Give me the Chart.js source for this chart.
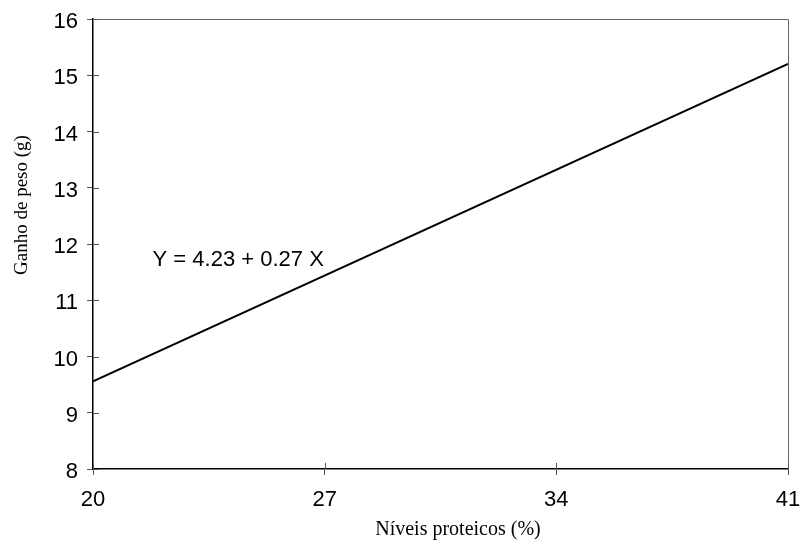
<!DOCTYPE html>
<html>
<head>
<meta charset="utf-8">
<script src="https://cdn.jsdelivr.net/npm/chart.js@4"></script>
<style>
	html, body { margin: 0; padding: 0; background: #fff; }
	#wrap { width: 803px; height: 544px; }
</style>
</head>
<body>
<div id="wrap"><canvas id="chart" width="803" height="544"></canvas></div>
<script>
// valores
const niveis = [20, 41];
const ganho = [9.56, 15.2];
const xTicks = [20, 27, 34, 41];
const yTicks = [8, 9, 10, 11, 12, 13, 14, 15, 16];
const equacao = 'Y = 4.23 + 0.27 X';
const eqPos = [21.8, 11.72];
const xTitle = 'Níveis proteicos (%)';
const yTitle = 'Ganho de peso (g)';

const sans = '"Liberation Sans", Arial, sans-serif';
const serif = '"Liberation Serif", "Times New Roman", serif';

const extras = {
	id: 'extras',
	afterDraw(chart) {
		const ctx = chart.ctx;
		const a = chart.chartArea;
		const xs = chart.scales.x;
		const ys = chart.scales.y;
		ctx.save();
		// moldura superior e direita
		ctx.strokeStyle = '#666';
		ctx.lineWidth = 1;
		ctx.beginPath();
		ctx.moveTo(a.left, a.top + 0.5);
		ctx.lineTo(a.right + 0.5, a.top + 0.5);
		ctx.lineTo(a.right + 0.5, a.bottom);
		ctx.stroke();
		// marcas internas
		ctx.strokeStyle = '#555';
		ctx.beginPath();
		xTicks.forEach(v => {
			const px = Math.round(xs.getPixelForValue(v)) + 0.5;
			ctx.moveTo(px, a.bottom);
			ctx.lineTo(px, a.bottom - 6);
		});
		yTicks.forEach(v => {
			const py = Math.round(ys.getPixelForValue(v)) + 0.5;
			ctx.moveTo(a.left, py);
			ctx.lineTo(a.left + 6, py);
		});
		ctx.stroke();
		// equação
		ctx.fillStyle = '#000';
		ctx.font = '22px ' + sans;
		ctx.textAlign = 'left';
		ctx.textBaseline = 'middle';
		ctx.fillText(equacao, xs.getPixelForValue(eqPos[0]), ys.getPixelForValue(eqPos[1]));
		// títulos dos eixos
		ctx.font = '20px ' + serif;
		ctx.textAlign = 'center';
		ctx.fillText(xTitle, 458, 530);
		ctx.translate(22, 205);
		ctx.rotate(-Math.PI / 2);
		ctx.font = '19px ' + serif;
		ctx.fillText(yTitle, 0, 0);
		ctx.restore();
	}
};

const ctx = document.getElementById('chart').getContext('2d');
const chart = new Chart(ctx, {
	type: 'scatter',
	data: {
		datasets: [{
			data: niveis.map((x, i) => ({ x: x, y: ganho[i] })),
			showLine: true,
			borderColor: '#000',
			borderWidth: 2,
			pointRadius: 0,
			fill: false,
		}],
	},
	options: {
		responsive: false,
		animation: false,
		layout: { padding: { top: 19, right: 15, left: 0, bottom: 0 } },
		plugins: {
			legend: { display: false },
			tooltip: { enabled: false },
		},
		scales: {
			x: {
				type: 'linear',
				min: 20,
				max: 41,
				afterFit: s => { s.height = 75; s.paddingLeft = 0; s.paddingRight = 0; },
				afterBuildTicks: s => { s.ticks = xTicks.map(v => ({ value: v })); },
				ticks: {
					font: { family: sans, size: 22 },
					color: '#000',
					padding: 12,
					maxRotation: 0,
				},
				grid: { drawOnChartArea: false, tickLength: 6, color: '#555' },
				border: { color: '#000', width: 1.5 },
			},
			y: {
				min: 8,
				max: 16,
				afterFit: s => { s.width = 93; s.paddingTop = 0; s.paddingBottom = 0; },
				afterBuildTicks: s => { s.ticks = yTicks.map(v => ({ value: v })); },
				ticks: {
					font: { family: sans, size: 22 },
					color: '#000',
					padding: 9,
					labelOffset: 3,
				},
				grid: { drawOnChartArea: false, tickLength: 6, color: '#555' },
				border: { color: '#000', width: 1.5 },
			},
		},
	},
	plugins: [extras],
});
</script>
</body>
</html>
